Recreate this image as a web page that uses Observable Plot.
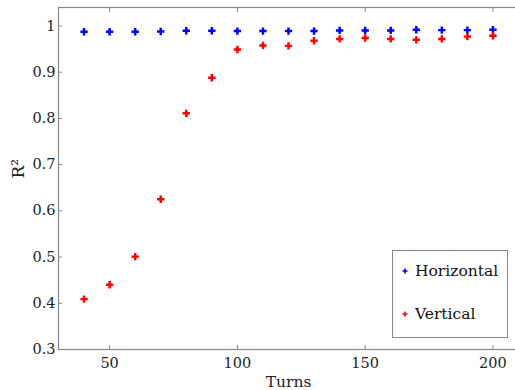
<!DOCTYPE html>
<html>
<head>
<meta charset="utf-8">
<script src="https://cdn.jsdelivr.net/npm/d3@7"></script>
<script src="https://cdn.jsdelivr.net/npm/@observablehq/plot@0.6"></script>
<style>
  html, body { margin: 0; padding: 0; background: #fff; overflow: hidden; }
  #wrap { position: relative; width: 515px; height: 390px; }
  #legend {
    position: absolute; left: 392px; top: 250px; width: 116px; height: 88px;
    border: 1px solid #888; background: #fff; box-sizing: border-box;
    font-family: "DejaVu Serif", serif; font-size: 15.5px; color: #111;
  }
  .item { position: absolute; left: 8px; display: flex; align-items: center; white-space: nowrap; }
  .item svg { margin-right: 6px; }
</style>
</head>
<body>
<div id="wrap"></div>
<script>
const turns = [40, 50, 60, 70, 80, 90, 100, 110, 120, 130, 140, 150, 160, 170, 180, 190, 200];
const horizontal = [0.9875, 0.9875, 0.9875, 0.988, 0.9897, 0.9897, 0.989, 0.989, 0.989, 0.989, 0.9904, 0.9904, 0.9904, 0.9918, 0.991, 0.991, 0.9918];
const vertical = [0.409, 0.440, 0.501, 0.625, 0.811, 0.888, 0.949, 0.958, 0.957, 0.968, 0.972, 0.974, 0.972, 0.970, 0.972, 0.977, 0.979];
const seriesNames = ["Horizontal", "Vertical"];
const seriesColors = ["#0000ff", "#ff0000"];
const xTicks = [50, 100, 150, 200];
const xTickLabels = ["50", "100", "150", "200"];
const yTicks = [0.3, 0.4, 0.5, 0.6, 0.7, 0.8, 0.9, 1.0];
const yTickLabels = ["0.3", "0.4", "0.5", "0.6", "0.7", "0.8", "0.9", "1"];

const rows = [];
turns.forEach((t, i) => {
  rows.push({turns: t, r2: horizontal[i], series: seriesNames[0]});
  rows.push({turns: t, r2: vertical[i], series: seriesNames[1]});
});

const gray = "#888";
const blank = () => "";

const chart = Plot.plot({
  width: 515,
  height: 390,
  marginLeft: 58,
  marginRight: -3,
  marginTop: 7,
  marginBottom: 41,
  style: {fontFamily: "DejaVu Serif, serif", fontSize: "14px", color: "#222", background: "#fff", overflow: "hidden"},
  x: {domain: [30, 210], label: null},
  y: {domain: [0.3, 1.04], label: null},
  color: {domain: seriesNames, range: seriesColors},
  marks: [
    Plot.frame({stroke: gray, strokeWidth: 1.2}),
    Plot.axisX(xTicks, {anchor: "bottom", tickSize: 0, tickPadding: 8, tickFormat: (d, i) => xTickLabels[i], label: null, fontSize: 14.5}),
    Plot.axisX(xTicks, {anchor: "bottom", tickSize: -4, tickFormat: blank, label: null, stroke: gray}),
    Plot.axisX(xTicks, {anchor: "top", tickSize: -4, tickFormat: blank, label: null, stroke: gray}),
    Plot.axisY(yTicks, {anchor: "left", tickSize: 0, tickPadding: 3, tickFormat: (d, i) => yTickLabels[i], label: null, fontSize: 14.5}),
    Plot.axisY(yTicks, {anchor: "left", tickSize: -4, tickFormat: blank, label: null, stroke: gray}),
    Plot.axisY(yTicks, {anchor: "right", tickSize: -4, tickFormat: blank, label: null, stroke: gray}),
    Plot.text(["Turns"], {frameAnchor: "bottom", dy: 37, fontSize: 15.5, fill: "#222"}),
    Plot.text(["R²"], {frameAnchor: "left", dx: -40, rotate: -90, fontSize: 17, fill: "#222"}),
    Plot.dot(rows, {x: "turns", y: "r2", fill: "series", symbol: "cross", r: 3.1, stroke: "none"})
  ]
});

const wrap = document.getElementById("wrap");
wrap.appendChild(chart);

const legend = document.createElement("div");
legend.id = "legend";
const crossPath = d3.symbol(d3.symbolCross, 14)();
seriesNames.forEach((name, i) => {
  const item = document.createElement("div");
  item.className = "item";
  item.style.top = (i === 0 ? 11 : 54) + "px";
  item.innerHTML = `<svg width="8" height="8" viewBox="-4 -4 8 8"><path d="${crossPath}" fill="${seriesColors[i]}"/></svg><span>${name}</span>`;
  legend.appendChild(item);
});
wrap.appendChild(legend);
</script>
</body>
</html>
